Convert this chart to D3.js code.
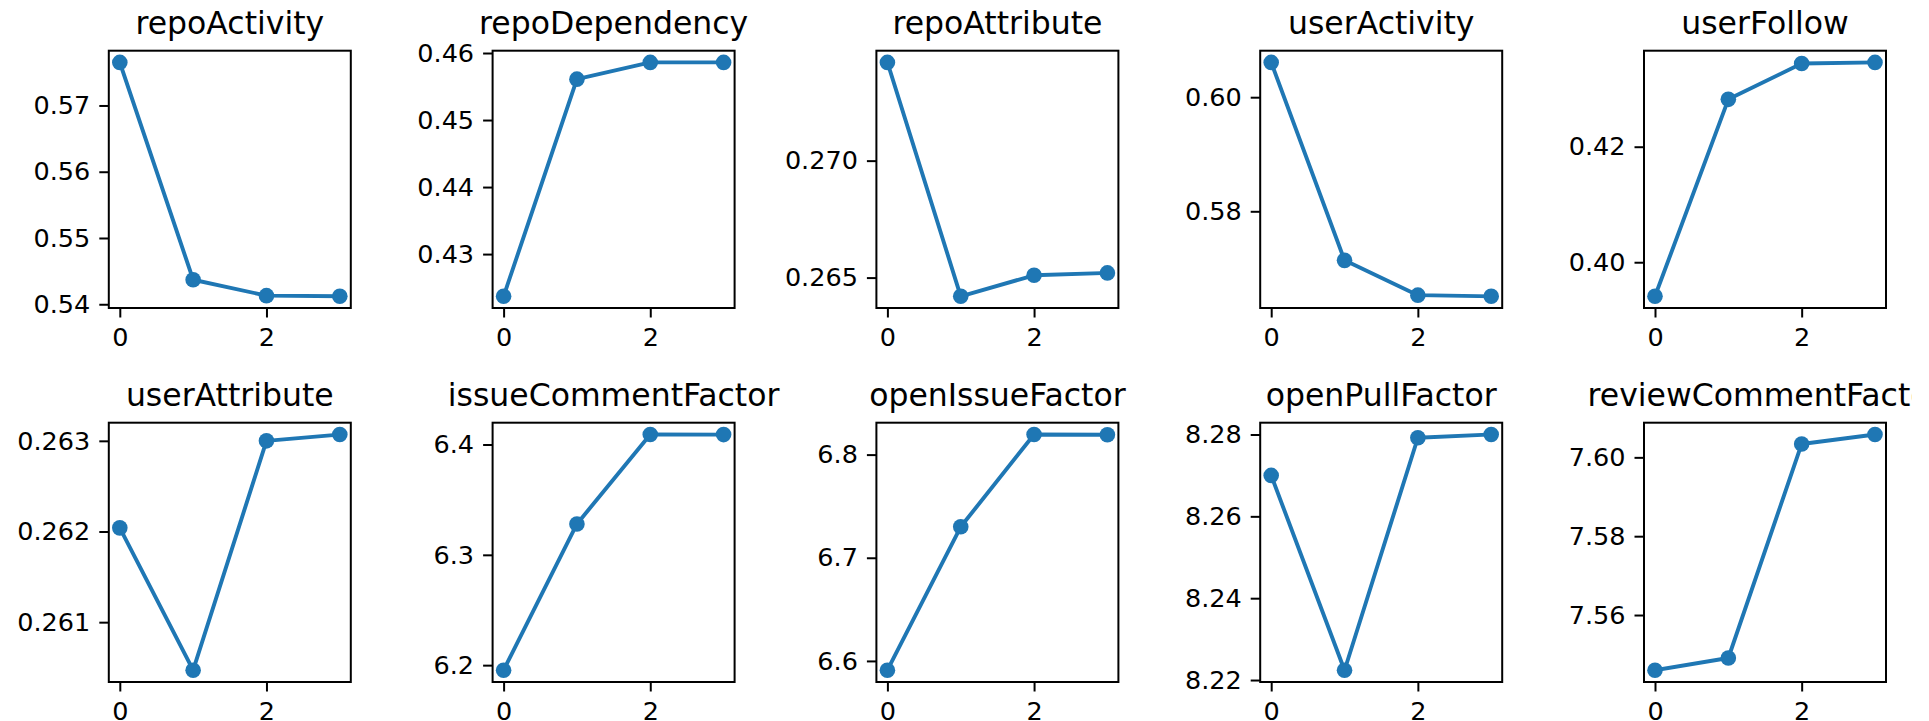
<!DOCTYPE html>
<html>
<head>
<meta charset="utf-8">
<script src="https://cdn.jsdelivr.net/npm/d3@7"></script>
<style>
  html, body { margin: 0; padding: 0; background: #fff; }
  svg { display: block; }
  text { font-family: "DejaVu Sans", sans-serif; fill: #000; }
</style>
</head>
<body>
<svg id="chart" width="1929" height="721"></svg>
<script>
// ---- data ----
const titles = ["repoActivity", "repoDependency", "repoAttribute", "userActivity", "userFollow",
                "userAttribute", "issueCommentFactor", "openIssueFactor", "openPullFactor", "reviewCommentFactor"];
const steps = [0, 1, 2, 3];
const repoActivity       = [0.5765, 0.5437, 0.5413, 0.5412];
const repoDependency     = [0.4237, 0.4561, 0.4586, 0.4586];
const repoAttribute      = [0.2742, 0.2642, 0.2651, 0.2652];
const userActivity       = [0.6061, 0.5714, 0.5653, 0.5651];
const userFollow         = [0.3941, 0.4282, 0.4344, 0.4346];
const userAttribute      = [0.26204, 0.26047, 0.26300, 0.26307];
const issueCommentFactor = [6.1954, 6.328, 6.4091, 6.409];
const openIssueFactor    = [6.591, 6.730, 6.8195, 6.8192];
const openPullFactor     = [8.2700, 8.2224, 8.2792, 8.2800];
const reviewCommentFact  = [7.5460, 7.5491, 7.6034, 7.6058];
const seriesList = [repoActivity, repoDependency, repoAttribute, userActivity, userFollow,
                    userAttribute, issueCommentFactor, openIssueFactor, openPullFactor, reviewCommentFact];
const xTicks = [0, 2];
const yTicks = [
  [0.54, 0.55, 0.56, 0.57],
  [0.43, 0.44, 0.45, 0.46],
  [0.265, 0.270],
  [0.58, 0.60],
  [0.40, 0.42],
  [0.261, 0.262, 0.263],
  [6.2, 6.3, 6.4],
  [6.6, 6.7, 6.8],
  [8.22, 8.24, 8.26, 8.28],
  [7.56, 7.58, 7.60]
];
const yFormats = [".2f", ".2f", ".3f", ".2f", ".2f", ".3f", ".1f", ".1f", ".2f", ".2f"];

// ---- layout ----
const colLeft = 108.8, colStep = 383.8, axW = 242;
const rows = [{top: 50.7, bottom: 308}, {top: 422.7, bottom: 682}];
const color = "#1f77b4";
const tickFont = 25.5, titleFont = 31.5;
const tickLen = 9.5, tickPad = 9;

const svg = d3.select("#chart");
const clipRect = svg.append("defs").append("clipPath").attr("id", "figclip")
  .append("rect").attr("x", 0).attr("y", 0).attr("width", 1915).attr("height", 721);
const root = svg.append("g").attr("clip-path", "url(#figclip)");

let lastTitle = null;
seriesList.forEach((vals, i) => {
  const r = Math.floor(i / 5), c = i % 5;
  const x0 = colLeft + c * colStep, x1 = x0 + axW;
  const y0 = rows[r].top, y1 = rows[r].bottom;

  const xs = d3.scaleLinear().domain([-0.15, 3.15]).range([x0, x1]);
  const mn = d3.min(vals), mx = d3.max(vals), rg = mx - mn;
  const ys = d3.scaleLinear().domain([mn - 0.05 * rg, mx + 0.05 * rg]).range([y1, y0]);

  const g = root.append("g");

  const xa = g.append("g").attr("transform", `translate(0,${y1})`)
    .call(d3.axisBottom(xs).tickValues(xTicks).tickFormat(d3.format("d"))
      .tickSize(tickLen).tickPadding(tickPad));
  const ya = g.append("g").attr("transform", `translate(${x0},0)`)
    .call(d3.axisLeft(ys).tickValues(yTicks[i]).tickFormat(d3.format(yFormats[i]))
      .tickSize(tickLen).tickPadding(tickPad));
  [xa, ya].forEach(a => {
    a.select(".domain").remove();
    a.selectAll(".tick line").attr("stroke", "#000").attr("stroke-width", 2);
    a.selectAll(".tick text").attr("font-size", tickFont)
      .attr("font-family", "DejaVu Sans").attr("fill", "#000");
  });
  xa.selectAll(".tick text").attr("dy", "0.78em");

  const line = d3.line().x((d, j) => xs(steps[j])).y(d => ys(d));
  g.append("path").datum(vals).attr("d", line)
    .attr("fill", "none").attr("stroke", color).attr("stroke-width", 3.9)
    .attr("stroke-linejoin", "round").attr("stroke-linecap", "square");
  g.selectAll("circle.pt").data(vals).enter().append("circle")
    .attr("class", "pt")
    .attr("cx", (d, j) => xs(steps[j])).attr("cy", d => ys(d))
    .attr("r", 7.8).attr("fill", color);

  g.append("rect").attr("x", x0).attr("y", y0).attr("width", x1 - x0).attr("height", y1 - y0)
    .attr("fill", "none").attr("stroke", "#000").attr("stroke-width", 2);

  lastTitle = g.append("text").attr("x", (x0 + x1) / 2).attr("y", y0 - 16.5)
    .attr("text-anchor", "middle").attr("font-size", titleFont).text(titles[i]);
});

// the reference figure is cut just after "reviewCommentFact"
try {
  const node = lastTitle.node();
  const bb = node.getBBox();
  const sub = node.getSubStringLength(0, "reviewCommentFact".length);
  clipRect.attr("width", Math.min(1929, bb.x + sub + 1.5));
} catch (e) {}
</script>
</body>
</html>
